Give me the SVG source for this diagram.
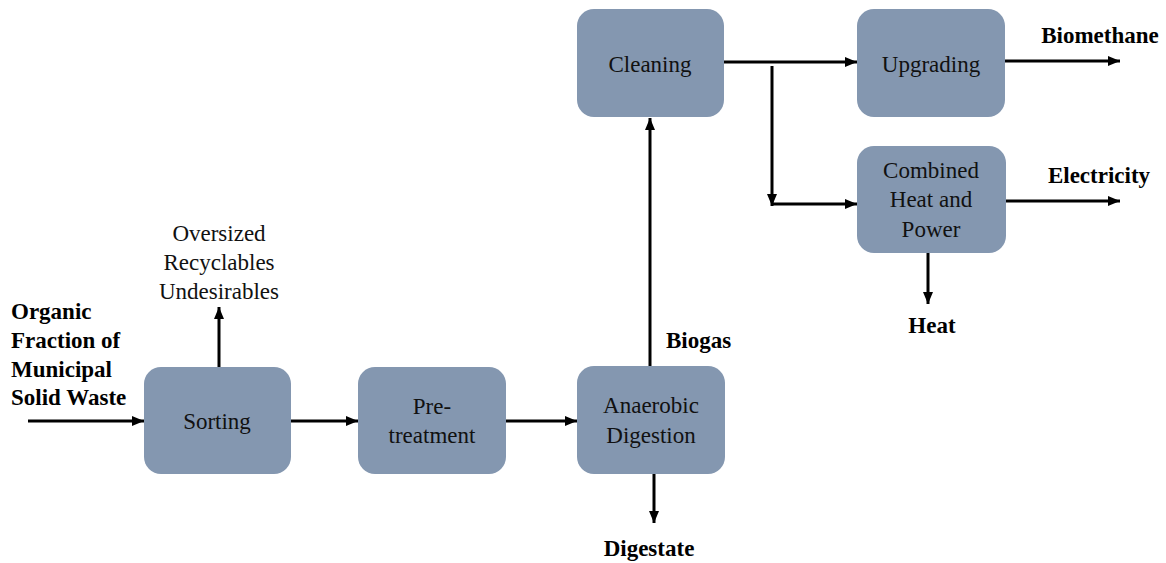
<svg xmlns="http://www.w3.org/2000/svg" width="1166" height="563" viewBox="0 0 1166 563">
  <style>
    .box { fill: #8497B0; }
    .lbl { font-family: "Liberation Serif", "Times New Roman", serif; font-size: 23px; fill: #111; text-anchor: middle; }
    .out { font-family: "Liberation Serif", "Times New Roman", serif; font-size: 23px; font-weight: bold; fill: #000; }
    .c { text-anchor: middle; }
    .wire { stroke: #000; stroke-width: 3; fill: none; }
  </style>
  <defs>
    <marker id="arrow" markerUnits="userSpaceOnUse" markerWidth="12" markerHeight="10" refX="12" refY="5" orient="auto">
      <path d="M0,0 L12,5 L0,10 Z" fill="#000"/>
    </marker>
  </defs>

  <!-- process blocks -->
  <g id="sorting">
    <rect class="box" x="144" y="367" width="147" height="107" rx="17"/>
    <text class="lbl" x="217" y="429">Sorting</text>
  </g>
  <g id="pretreatment">
    <rect class="box" x="358" y="367" width="148" height="107" rx="17"/>
    <text class="lbl" x="432" y="414">Pre-</text>
    <text class="lbl" x="432" y="443">treatment</text>
  </g>
  <g id="digestion">
    <rect class="box" x="577" y="366" width="148" height="108" rx="17"/>
    <text class="lbl" x="651" y="413">Anaerobic</text>
    <text class="lbl" x="651" y="443">Digestion</text>
  </g>
  <g id="cleaning">
    <rect class="box" x="577" y="9" width="147" height="108" rx="17"/>
    <text class="lbl" x="650" y="72">Cleaning</text>
  </g>
  <g id="upgrading">
    <rect class="box" x="857" y="9" width="148" height="108" rx="17"/>
    <text class="lbl" x="931" y="72">Upgrading</text>
  </g>
  <g id="chp">
    <rect class="box" x="857" y="146" width="149" height="107" rx="17"/>
    <text class="lbl" x="931" y="178">Combined</text>
    <text class="lbl" x="931" y="207">Heat and</text>
    <text class="lbl" x="931" y="237">Power</text>
  </g>

  <!-- inputs and products -->
  <g id="feedstock">
    <text class="out" x="11" y="319">Organic</text>
    <text class="out" x="11" y="348">Fraction of</text>
    <text class="out" x="11" y="377">Municipal</text>
    <text class="out" x="11" y="405">Solid Waste</text>
  </g>
  <g id="rejects">
    <text class="lbl" x="219" y="241">Oversized</text>
    <text class="lbl" x="219" y="270">Recyclables</text>
    <text class="lbl" x="219" y="299">Undesirables</text>
  </g>
  <g id="biogas">
    <text class="out" x="666" y="348">Biogas</text>
  </g>
  <g id="digestate">
    <text class="out c" x="649" y="556">Digestate</text>
  </g>
  <g id="biomethane">
    <text class="out c" x="1100" y="43">Biomethane</text>
  </g>
  <g id="electricity">
    <text class="out c" x="1099" y="183">Electricity</text>
  </g>
  <g id="heat">
    <text class="out c" x="932" y="333">Heat</text>
  </g>

  <!-- connectors -->
  <g id="connectors">
    <line class="wire" x1="28" y1="421" x2="144" y2="421" marker-end="url(#arrow)"/>
    <line class="wire" x1="219" y1="367" x2="219" y2="307" marker-end="url(#arrow)"/>
    <line class="wire" x1="291" y1="421" x2="358" y2="421" marker-end="url(#arrow)"/>
    <line class="wire" x1="506" y1="421" x2="577" y2="421" marker-end="url(#arrow)"/>
    <line class="wire" x1="650" y1="366" x2="650" y2="118" marker-end="url(#arrow)"/>
    <line class="wire" x1="724" y1="62" x2="857" y2="62" marker-end="url(#arrow)"/>
    <line class="wire" x1="772" y1="66" x2="772" y2="206" marker-end="url(#arrow)"/>
    <line class="wire" x1="771" y1="204" x2="857" y2="204" marker-end="url(#arrow)"/>
    <line class="wire" x1="1005" y1="61" x2="1120" y2="61" marker-end="url(#arrow)"/>
    <line class="wire" x1="1006" y1="201" x2="1120" y2="201" marker-end="url(#arrow)"/>
    <line class="wire" x1="928" y1="253" x2="928" y2="304" marker-end="url(#arrow)"/>
    <line class="wire" x1="654" y1="474" x2="654" y2="523" marker-end="url(#arrow)"/>
  </g>
</svg>
